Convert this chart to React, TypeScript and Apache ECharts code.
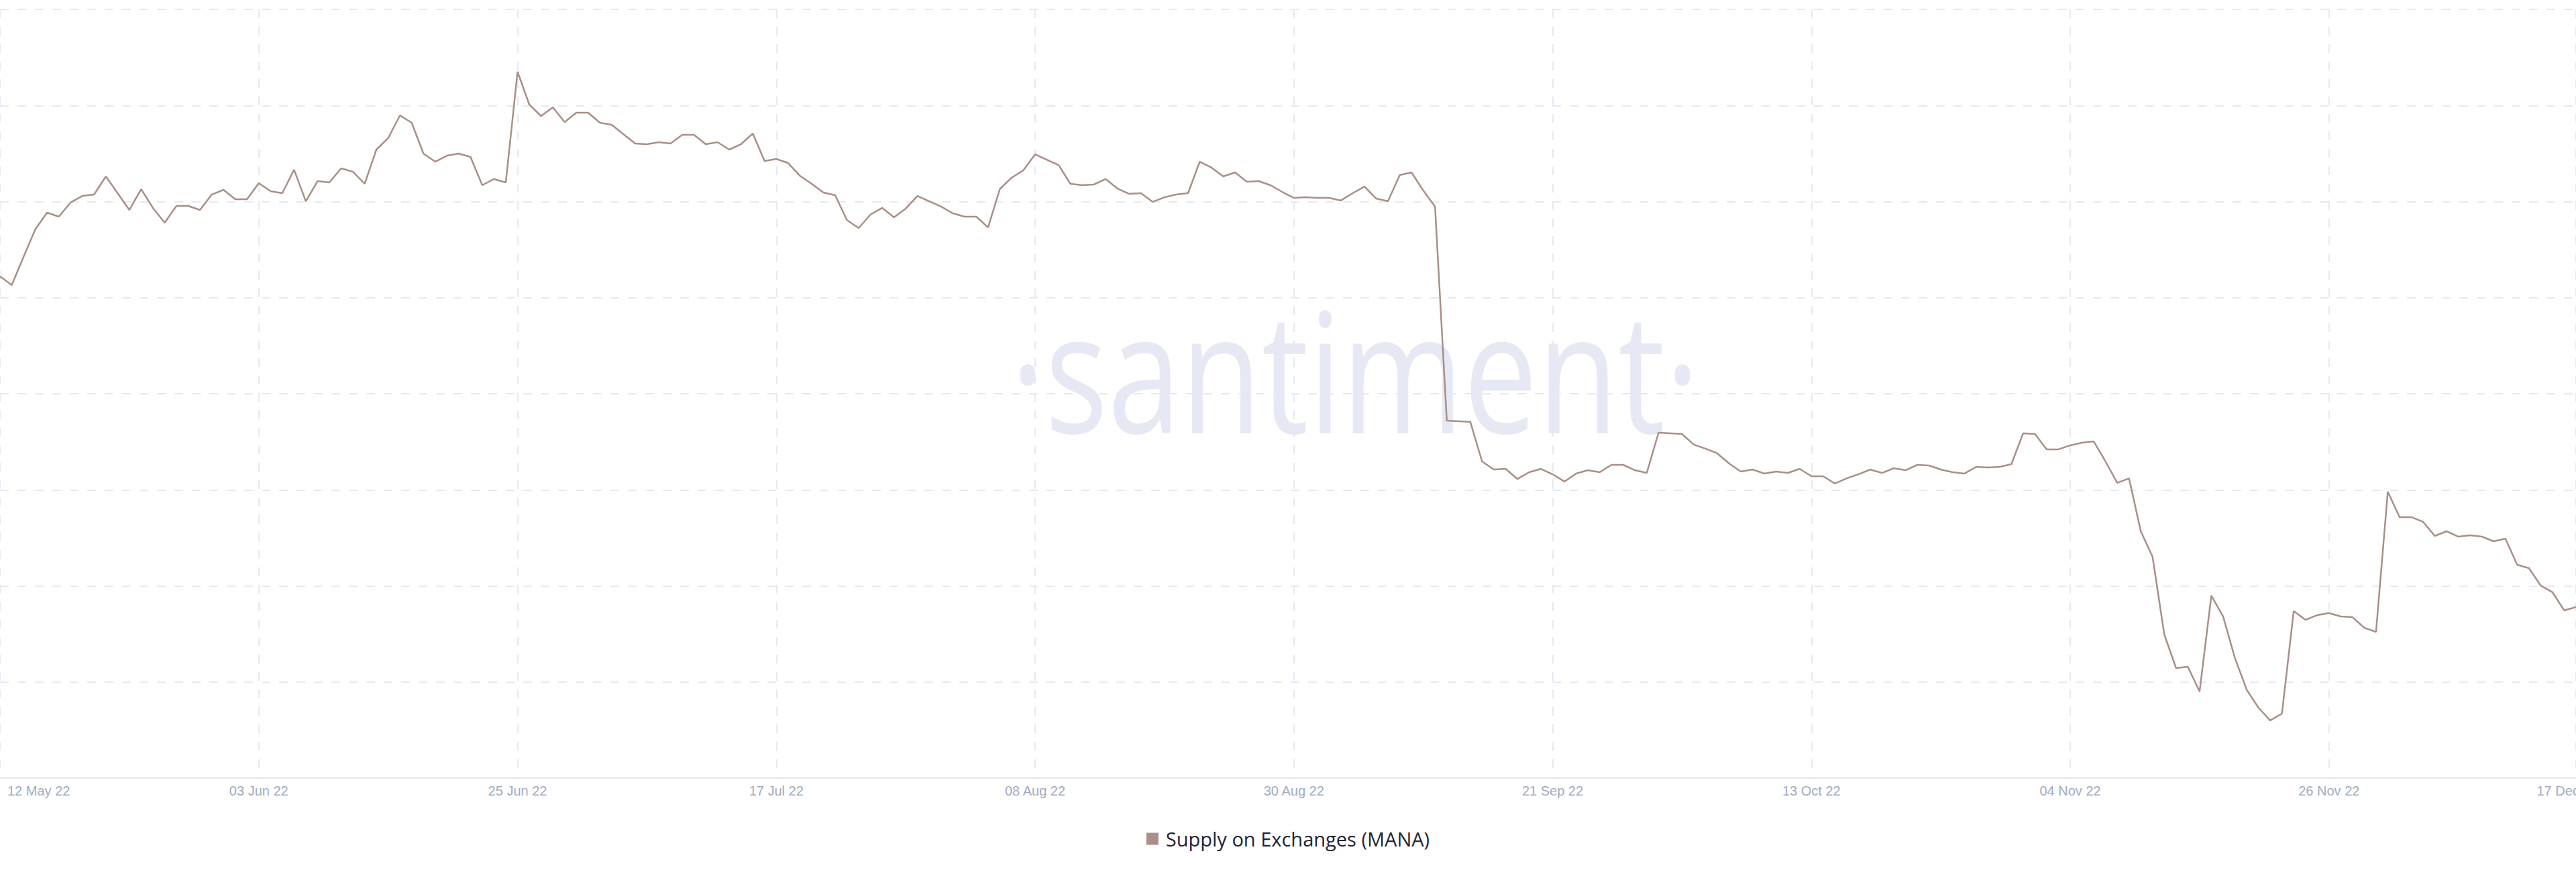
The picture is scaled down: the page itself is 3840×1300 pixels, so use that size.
import { useEffect, useRef } from "react";
import * as echarts from "echarts";

// Daily dates, 12 May 2022 .. 17 Dec 2022
const START_YEAR = 2022;
const START_MONTH = 4; // May (0-based)
const START_DAY = 12;
const DAY_COUNT = 220;
const MONTHS = ["Jan", "Feb", "Mar", "Apr", "May", "Jun", "Jul", "Aug", "Sep", "Oct", "Nov", "Dec"];
const LABEL_STEP = 22;

const pad2 = (n: number) => (n < 10 ? "0" + n : String(n));
const categories: string[] = Array.from({ length: DAY_COUNT }, (_, i) => {
  const d = new Date(Date.UTC(START_YEAR, START_MONTH, START_DAY + i));
  return `${pad2(d.getUTCDate())} ${MONTHS[d.getUTCMonth()]} ${String(d.getUTCFullYear()).slice(2)}`;
});

// Supply on Exchanges (MANA), millions (y axis is unlabelled in the source)
const mayValues = [202.22, 201.31, 204.24, 207.1, 208.85, 208.43, 209.9, 210.59, 210.73, 212.62, 210.87, 209.13, 211.29, 209.34, 207.8, 209.55, 209.55, 209.13, 210.73, 211.22];
const junValues = [210.24, 210.24, 211.92, 211.08, 210.87, 213.32, 210.03, 212.13, 211.99, 213.46, 213.11, 211.85, 215.41, 216.6, 218.97, 218.2, 214.99, 214.15, 214.78, 214.99, 214.64, 211.71, 212.34, 211.99, 223.51, 220.09, 218.9, 219.81, 218.27, 219.25];
const julValues = [219.25, 218.2, 217.99, 217.02, 216.04, 215.97, 216.18, 216.04, 216.95, 216.95, 215.97, 216.18, 215.41, 215.97, 217.09, 214.22, 214.43, 214.01, 212.69, 211.85, 210.94, 210.66, 208.08, 207.24, 208.64, 209.34, 208.36, 209.27, 210.59, 210.03, 209.48];
const augValues = [208.78, 208.43, 208.43, 207.31, 211.29, 212.48, 213.25, 214.92, 214.36, 213.8, 211.85, 211.71, 211.78, 212.34, 211.36, 210.8, 210.87, 209.97, 210.45, 210.73, 210.87, 214.15, 213.53, 212.62, 213.04, 212.06, 212.13, 211.71, 211.01, 210.38, 210.45];
const sepValues = [210.38, 210.38, 210.11, 210.87, 211.57, 210.31, 210.03, 212.76, 213.04, 211.15, 209.48, 187.21, 187.14, 187.07, 182.95, 182.11, 182.18, 181.13, 181.83, 182.18, 181.62, 180.86, 181.69, 182.04, 181.83, 182.6, 182.6, 182.04, 181.76, 185.95];
const octValues = [185.88, 185.81, 184.7, 184.28, 183.79, 182.74, 181.9, 182.11, 181.69, 181.9, 181.76, 182.18, 181.41, 181.41, 180.65, 181.2, 181.62, 182.11, 181.76, 182.25, 182.04, 182.6, 182.53, 182.11, 181.83, 181.69, 182.39, 182.32, 182.39, 182.67, 185.88];
const novValues = [185.81, 184.21, 184.21, 184.63, 184.9, 185.04, 182.95, 180.72, 181.2, 175.69, 173.04, 164.94, 161.45, 161.59, 159.01, 168.99, 166.82, 162.5, 159.21, 157.33, 156.0, 156.7, 167.38, 166.47, 166.96, 167.17, 166.82, 166.75, 165.64, 165.22];
const decValues = [179.81, 177.16, 177.16, 176.67, 175.2, 175.69, 175.13, 175.27, 175.13, 174.64, 174.92, 172.2, 171.85, 170.04, 169.34, 167.45, 167.8];

const supplyValues = [...mayValues, ...junValues, ...julValues, ...augValues, ...sepValues, ...octValues, ...novValues, ...decValues];

const Y_MIN = 150;
const Y_MAX = 230;
const Y_STEP = 10;

const SERIES_NAME = "Supply on Exchanges (MANA)";
const LINE_COLOR = "#a98f87";
const GRID_COLOR = "#e6e8f3";
const LABEL_COLOR = "#a0aac3";

const isLabelIndex = (i: number) => i % LABEL_STEP === 0 || i === DAY_COUNT - 1;

export default function App() {
  const ref = useRef<HTMLDivElement | null>(null);

  useEffect(() => {
    document.body.style.margin = "0";
    if (!ref.current) return;
    const chart = echarts.init(ref.current, null, { renderer: "svg" });
    const labelFont = { color: LABEL_COLOR, fontFamily: "Liberation Sans", fontSize: 20 };
    chart.setOption({
      animation: false,
      backgroundColor: "#ffffff",
      grid: {
        left: 0,
        right: 0,
        top: 14,
        bottom: 140,
        containLabel: false,
        outerBoundsMode: "none",
      },
      graphic: [
        {
          type: "text",
          x: 2020,
          y: 549,
          scaleX: 0.785,
          z: 0,
          silent: true,
          style: {
            text: "·santiment·",
            fontFamily: "Open Sans",
            fontSize: 250,
            fill: "#e6e9f3",
            textAlign: "center",
            textVerticalAlign: "middle",
          },
        },
      ],
      legend: {
        data: [{ name: SERIES_NAME, icon: "rect" }],
        left: "center",
        top: 1231,
        itemWidth: 18,
        itemHeight: 18,
        textStyle: {
          fontFamily: "Open Sans",
          fontSize: 29,
          color: "#1f2436",
          padding: [0, 0, 0, 6],
        },
      },
      xAxis: {
        type: "category",
        data: categories,
        boundaryGap: false,
        axisLine: { show: true, lineStyle: { color: "#e1e6f0", width: 2 } },
        axisTick: { show: false },
        axisLabel: {
          interval: (i: number) => isLabelIndex(i),
          ...labelFont,
          margin: 9,
          alignMinLabel: "left",
          formatter: (v: string, i: number) =>
            i === 0 ? `{first|${v}}` : i === DAY_COUNT - 1 ? `{last|${v}}` : v,
          rich: {
            first: { ...labelFont, padding: [0, 0, 0, 11] },
            last: { ...labelFont, padding: [0, 26, 0, 0] },
          },
        },
        splitLine: {
          show: true,
          interval: (i: number) => isLabelIndex(i),
          lineStyle: { color: GRID_COLOR, width: 2, type: [13, 13] },
        },
      },
      yAxis: {
        type: "value",
        min: Y_MIN,
        max: Y_MAX,
        interval: Y_STEP,
        axisLine: { show: false },
        axisTick: { show: false },
        axisLabel: { show: false },
        splitLine: {
          show: true,
          lineStyle: { color: GRID_COLOR, width: 2, type: [13, 13] },
        },
      },
      series: [
        {
          name: SERIES_NAME,
          type: "line",
          data: supplyValues,
          symbol: "none",
          z: 5,
          itemStyle: { color: LINE_COLOR },
          lineStyle: { color: LINE_COLOR, width: 2.5 },
        },
      ],
    });
    return () => chart.dispose();
  }, []);

  return <div ref={ref} style={{ width: 3840, height: 1300 }} />;
}
